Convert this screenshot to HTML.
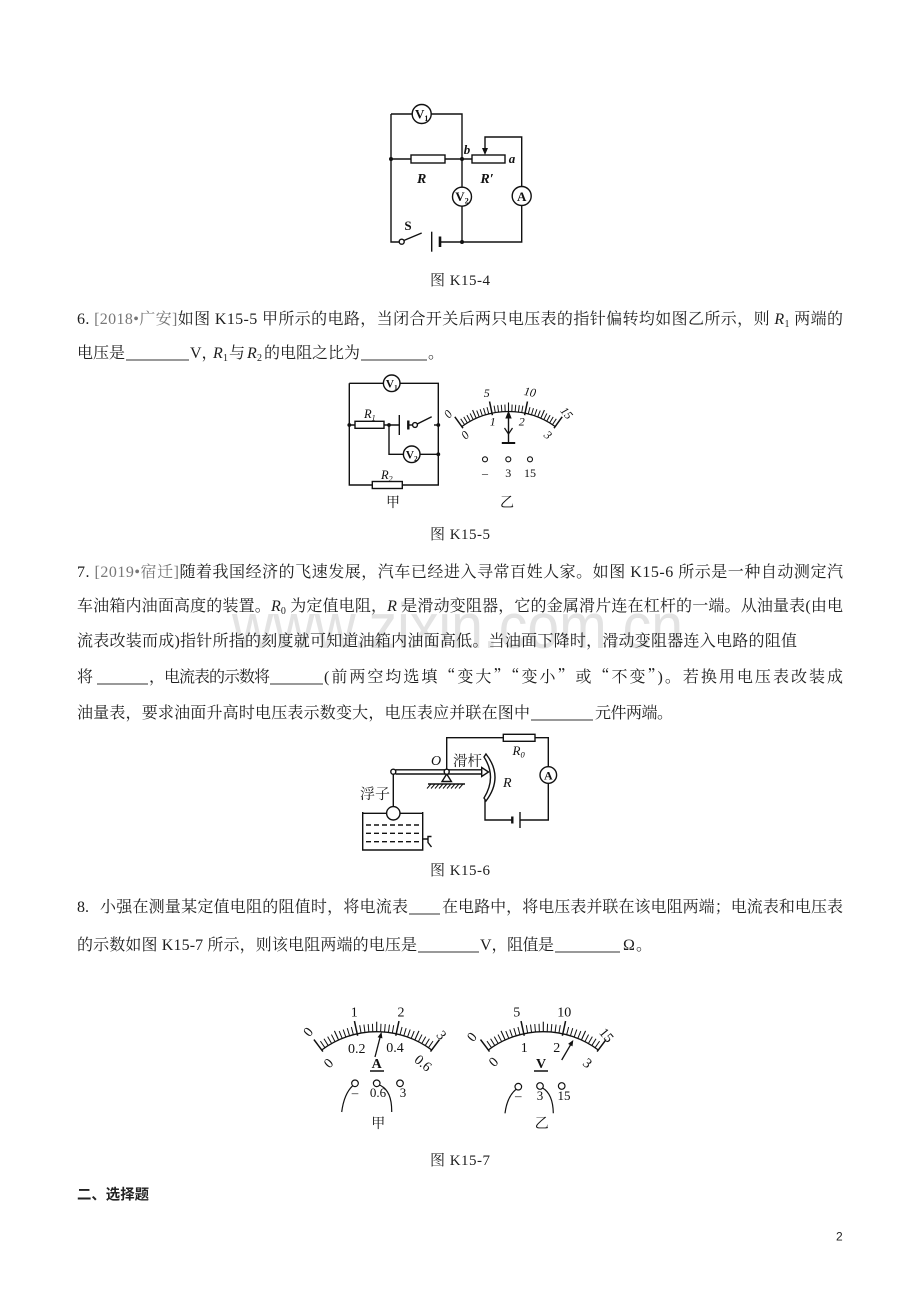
<!DOCTYPE html>
<html>
<head>
<meta charset="utf-8">
<style>
html,body{margin:0;padding:0;background:#fff;}
svg{display:block;}
.t{font-family:"Liberation Serif","Noto Serif CJK SC",serif;font-size:16px;fill:#1e1e1e;}
.d{font-family:"Liberation Serif","Noto Serif CJK SC",serif;fill:#111;}
.w{stroke:#111;stroke-width:1.4;fill:none;}
.cq{font-family:"Noto Serif CJK SC",serif;}
</style>
</head>
<body>
<svg width="920" height="1302" viewBox="0 0 920 1302" xmlns="http://www.w3.org/2000/svg" xmlns:xlink="http://www.w3.org/1999/xlink">
<defs>
<path id="t7a" d="M0 -91.8V-99.8" stroke="#111" stroke-width="1" fill="none"/>
<path id="t7b" d="M0 -91.8V-101.8" stroke="#111" stroke-width="1.1" fill="none"/>
<path id="t7c" d="M0 -89.8V-104.8" stroke="#111" stroke-width="1.5" fill="none"/>
<g id="s7">
<path d="M-54.99 -73.5A91.8 91.8 0 0 1 54.99 -73.5" stroke="#111" stroke-width="1.3" fill="none"/>
<use href="#t7c" transform="rotate(-36.8)"/>
<use href="#t7a" transform="rotate(-34.347)"/>
<use href="#t7a" transform="rotate(-31.893)"/>
<use href="#t7a" transform="rotate(-29.44)"/>
<use href="#t7a" transform="rotate(-26.987)"/>
<use href="#t7b" transform="rotate(-24.533)"/>
<use href="#t7a" transform="rotate(-22.08)"/>
<use href="#t7a" transform="rotate(-19.627)"/>
<use href="#t7a" transform="rotate(-17.173)"/>
<use href="#t7a" transform="rotate(-14.72)"/>
<use href="#t7c" transform="rotate(-12.267)"/>
<use href="#t7a" transform="rotate(-9.813)"/>
<use href="#t7a" transform="rotate(-7.36)"/>
<use href="#t7a" transform="rotate(-4.907)"/>
<use href="#t7a" transform="rotate(-2.453)"/>
<use href="#t7b" transform="rotate(0)"/>
<use href="#t7a" transform="rotate(2.453)"/>
<use href="#t7a" transform="rotate(4.907)"/>
<use href="#t7a" transform="rotate(7.36)"/>
<use href="#t7a" transform="rotate(9.813)"/>
<use href="#t7c" transform="rotate(12.267)"/>
<use href="#t7a" transform="rotate(14.72)"/>
<use href="#t7a" transform="rotate(17.173)"/>
<use href="#t7a" transform="rotate(19.627)"/>
<use href="#t7a" transform="rotate(22.08)"/>
<use href="#t7b" transform="rotate(24.533)"/>
<use href="#t7a" transform="rotate(26.987)"/>
<use href="#t7a" transform="rotate(29.44)"/>
<use href="#t7a" transform="rotate(31.893)"/>
<use href="#t7a" transform="rotate(34.347)"/>
<use href="#t7c" transform="rotate(36.8)"/>
</g>
<path id="t5a" d="M0 -80V-87" stroke="#111" stroke-width="1" fill="none"/>
<path id="t5b" d="M0 -80V-89" stroke="#111" stroke-width="1.1" fill="none"/>
<path id="t5c" d="M0 -78V-92" stroke="#111" stroke-width="1.5" fill="none"/>
</defs>
<rect width="920" height="1302" fill="#fff"/>

<!-- watermark -->
<text x="232" y="648" font-family="Liberation Sans, sans-serif" font-size="64" fill="#e3e3e3" textLength="451" lengthAdjust="spacingAndGlyphs">www.zixin.com.cn</text>

<!-- ================= Fig K15-4 ================= -->
<g class="w">
<path d="M391 114V242H399.2"/>
<path d="M391 114H412.2M431.2 114H462V242"/>
<path d="M391 159H411M445 159H472"/>
<rect x="411" y="155" width="34" height="8"/>
<rect x="472" y="155" width="33" height="8"/>
<path d="M485 149V137H521.7V186.5M521.7 205.5V242H440"/>
<circle cx="421.7" cy="114" r="9.5" fill="#fff"/>
<circle cx="462" cy="196.7" r="9.5" fill="#fff"/>
<circle cx="521.7" cy="196" r="9.5" fill="#fff"/>
<circle cx="401.7" cy="241.7" r="2.5" fill="#fff"/>
<path d="M403.8 240.5L421.7 233"/>
<path d="M431.7 231.7V251.7"/>
<path d="M440 236.5V247" stroke-width="2.6"/>
</g>
<path d="M485 155L482 148H488Z" fill="#111"/>
<circle cx="391" cy="159" r="2" fill="#111"/>
<circle cx="462" cy="159" r="2" fill="#111"/>
<circle cx="462" cy="242" r="2" fill="#111"/>
<text class="d" x="421.7" y="118.5" font-size="13" font-weight="bold" text-anchor="middle">V<tspan font-size="8" dy="2.5">1</tspan></text>
<text class="d" x="462" y="201" font-size="13" font-weight="bold" text-anchor="middle">V<tspan font-size="8" dy="2.5">2</tspan></text>
<text class="d" x="521.7" y="200.8" font-size="13" font-weight="bold" text-anchor="middle">A</text>
<text class="d" x="421.7" y="183" font-size="14" font-style="italic" font-weight="bold" text-anchor="middle">R</text>
<text class="d" x="487" y="183" font-size="14" font-style="italic" font-weight="bold" text-anchor="middle">R′</text>
<text class="d" x="467" y="154" font-size="13" font-style="italic" font-weight="bold" text-anchor="middle">b</text>
<text class="d" x="512" y="163" font-size="13" font-style="italic" font-weight="bold" text-anchor="middle">a</text>
<text class="d" x="408" y="230" font-size="13" font-weight="bold" text-anchor="middle">S</text>
<text class="t" x="430" y="285" textLength="60" lengthAdjust="spacing" style="font-size:15px">图 K15-4</text>

<!-- ================= Q6 ================= -->
<text class="t" x="77" y="324" textLength="766" lengthAdjust="spacing">6. <tspan fill="#777">[2018•广安]</tspan>如图 K15-5 甲所示的电路，当闭合开关后两只电压表的指针偏转均如图乙所示，则 <tspan font-style="italic">R</tspan><tspan font-size="10" dy="3">1</tspan><tspan dy="-3"> 两端的</tspan></text>
<text class="t" x="77" y="358">电压是</text>
<text class="t" x="190" y="358">V，</text>
<text class="t" x="213" y="358" font-style="italic">R</text>
<text class="t" x="223" y="361" style="font-size:10px">1</text>
<text class="t" x="229" y="358">与</text>
<text class="t" x="247" y="358" font-style="italic">R</text>
<text class="t" x="257" y="361" style="font-size:10px">2</text>
<text class="t" x="264" y="358" textLength="96" lengthAdjust="spacing">的电阻之比为</text>
<text class="t" x="428" y="358">。</text>
<g stroke="#333" stroke-width="1">
<path d="M126 360H189M361 360H427"/>
</g>

<!-- ================= Fig K15-5 ================= -->
<g class="w" stroke-width="1.3">
<path d="M349.3 383.3H383.4M400 383.3H438.3V485H402.3M372.3 485H349.3V383.3"/>
<rect x="372.3" y="481.5" width="30" height="7"/>
<path d="M349.3 425H355M384 425H399.3"/>
<rect x="355" y="421.3" width="29" height="7"/>
<path d="M399.3 415V435"/>
<path d="M408.3 420.5V429.5" stroke-width="2.4"/>
<path d="M408.3 425H412.6"/>
<circle cx="415" cy="425" r="2.4" fill="#fff"/>
<path d="M417.2 424L431.7 416.7"/>
<path d="M434 425H438.3"/>
<path d="M389 425V454.3H403.4M420 454.3H438.3"/>
<circle cx="391.7" cy="383.3" r="8.3" fill="#fff"/>
<circle cx="411.7" cy="454.3" r="8.3" fill="#fff"/>
</g>
<circle cx="349.3" cy="425" r="1.9" fill="#111"/>
<circle cx="389" cy="425" r="1.9" fill="#111"/>
<circle cx="438.3" cy="425" r="1.9" fill="#111"/>
<circle cx="438.3" cy="454.3" r="1.9" fill="#111"/>
<text class="d" x="391.7" y="387.5" font-size="11.5" font-weight="bold" text-anchor="middle">V<tspan font-size="7" dy="2.5">1</tspan></text>
<text class="d" x="411.7" y="458.5" font-size="11.5" font-weight="bold" text-anchor="middle">V<tspan font-size="7" dy="2.5">2</tspan></text>
<text class="d" x="364" y="418" font-size="12.5" font-style="italic">R<tspan font-size="8" dy="2.5">1</tspan></text>
<text class="d" x="381" y="479" font-size="12.5" font-style="italic">R<tspan font-size="8" dy="2.5">2</tspan></text>
<text class="d" x="393" y="507" font-size="14" text-anchor="middle">甲</text>

<!-- meter 乙 K15-5 -->
<g transform="translate(508.5 491.5)">
<path d="M-46.68 -64.97A80 80 0 0 1 46.68 -64.97" stroke="#111" stroke-width="1.3" fill="none"/>
<use href="#t5c" transform="rotate(-35.7)"/>
<use href="#t5a" transform="rotate(-33.32)"/>
<use href="#t5a" transform="rotate(-30.94)"/>
<use href="#t5a" transform="rotate(-28.56)"/>
<use href="#t5a" transform="rotate(-26.18)"/>
<use href="#t5b" transform="rotate(-23.8)"/>
<use href="#t5a" transform="rotate(-21.42)"/>
<use href="#t5a" transform="rotate(-19.04)"/>
<use href="#t5a" transform="rotate(-16.66)"/>
<use href="#t5a" transform="rotate(-14.28)"/>
<use href="#t5c" transform="rotate(-11.9)"/>
<use href="#t5a" transform="rotate(-9.52)"/>
<use href="#t5a" transform="rotate(-7.14)"/>
<use href="#t5a" transform="rotate(-4.76)"/>
<use href="#t5a" transform="rotate(-2.38)"/>
<use href="#t5b" transform="rotate(0)"/>
<use href="#t5a" transform="rotate(2.38)"/>
<use href="#t5a" transform="rotate(4.76)"/>
<use href="#t5a" transform="rotate(7.14)"/>
<use href="#t5a" transform="rotate(9.52)"/>
<use href="#t5c" transform="rotate(11.9)"/>
<use href="#t5a" transform="rotate(14.28)"/>
<use href="#t5a" transform="rotate(16.66)"/>
<use href="#t5a" transform="rotate(19.04)"/>
<use href="#t5a" transform="rotate(21.42)"/>
<use href="#t5b" transform="rotate(23.8)"/>
<use href="#t5a" transform="rotate(26.18)"/>
<use href="#t5a" transform="rotate(28.56)"/>
<use href="#t5a" transform="rotate(30.94)"/>
<use href="#t5a" transform="rotate(33.32)"/>
<use href="#t5c" transform="rotate(35.7)"/>
</g>
<g stroke="#111" fill="none">
<path d="M508.5 416V443" stroke-width="1.4"/>
<path d="M504.5 428L508.5 434L512.5 428" stroke-width="1.2"/>
<path d="M501.8 443H515.2" stroke-width="2"/>
<circle cx="485" cy="459.3" r="2.5" stroke-width="1.1"/>
<circle cx="508.3" cy="459.3" r="2.5" stroke-width="1.1"/>
<circle cx="530" cy="459.3" r="2.5" stroke-width="1.1"/>
</g>
<path d="M508.5 410.5L505.3 418.5H511.7Z" fill="#111"/>
<g class="d" font-size="12" font-style="italic" text-anchor="middle">
<text x="448" y="418" transform="rotate(-50 448 414)">0</text>
<text x="486.7" y="397">5</text>
<text x="530" y="396" transform="rotate(10 530 392)">10</text>
<text x="566.7" y="417" transform="rotate(50 566.7 413)">15</text>
<text x="465" y="439" transform="rotate(-45 465 435)">0</text>
<text x="492.7" y="425.7">1</text>
<text x="521.7" y="425.7">2</text>
<text x="548" y="439" transform="rotate(40 548 435)">3</text>
</g>
<g class="d" font-size="12" text-anchor="middle">
<text x="485" y="477">–</text>
<text x="508.3" y="477">3</text>
<text x="530" y="477">15</text>
</g>
<text class="d" x="507" y="507" font-size="14" text-anchor="middle">乙</text>
<text class="t" x="430" y="539" textLength="60" lengthAdjust="spacing" style="font-size:15px">图 K15-5</text>

<!-- ================= Q7 ================= -->
<text class="t" x="77" y="577" textLength="766" lengthAdjust="spacing">7. <tspan fill="#777">[2019•宿迁]</tspan>随着我国经济的飞速发展，汽车已经进入寻常百姓人家。如图 K15-6 所示是一种自动测定汽</text>
<text class="t" x="77" y="611" textLength="766" lengthAdjust="spacing">车油箱内油面高度的装置。<tspan font-style="italic">R</tspan><tspan font-size="10" dy="3">0</tspan><tspan dy="-3"> 为定值电阻，</tspan><tspan font-style="italic">R</tspan> 是滑动变阻器，它的金属滑片连在杠杆的一端。从油量表(由电</text>
<text class="t" x="77" y="646" textLength="720" lengthAdjust="spacing">流表改装而成)指针所指的刻度就可知道油箱内油面高低。当油面下降时，滑动变阻器连入电路的阻值</text>
<text class="t" x="77" y="682">将</text>
<text class="t" x="149" y="682" textLength="121" lengthAdjust="spacing">，电流表的示数将</text>
<text class="t" x="324" y="682" textLength="519" lengthAdjust="spacing">(前两空均选填<tspan class="cq">“</tspan>变大<tspan class="cq">”“</tspan>变小<tspan class="cq">”</tspan>或<tspan class="cq">“</tspan>不变<tspan class="cq">”</tspan>)。若换用电压表改装成</text>
<text class="t" x="77" y="718" textLength="453" lengthAdjust="spacing">油量表，要求油面升高时电压表示数变大，电压表应并联在图中</text>
<text class="t" x="595" y="718" textLength="78" lengthAdjust="spacing">元件两端。</text>
<g stroke="#333" stroke-width="1">
<path d="M97 684H148M270 684H323M531 720H593"/>
</g>

<!-- ================= Fig K15-6 ================= -->
<g class="w" stroke-width="1.3">
<path d="M362.7 812V850H422.7V812"/>
<path d="M362.7 813.3H422.7"/>
<path d="M366 825H421M366 833.3H421M366 841.7H421" stroke-dasharray="5 3"/>
<path d="M422.7 839H428V836.5H431.5M428 839V842.5L431.5 847"/>
<path d="M393.3 806.6V774"/>
<path d="M395.5 769.8H481.7M395.5 774H481.7"/>
<path d="M481.7 767.5L488.5 772L481.7 776.5Z" fill="#fff"/>
<circle cx="393.3" cy="813.3" r="6.7" fill="#fff"/>
<circle cx="393.3" cy="771.7" r="2.5" fill="#fff"/>
<path d="M446.7 769.3V737.7H503.3M535 737.7H548.3V766.7M548.3 783.3V820H520"/>
<rect x="503.3" y="734.3" width="31.7" height="7"/>
<path d="M520 812V828"/>
<path d="M512.3 816.5V823.5" stroke-width="2.4"/>
<path d="M512.3 820H485V800"/>
<path d="M486 754Q504 777 486 801L484 798Q497 777 484 757Z" fill="#fff"/>
<path d="M446.7 774L442 781.5H451.4Z" fill="#fff"/>
<circle cx="446.7" cy="771.7" r="2.5" fill="#fff"/>
<path d="M428 784H465"/>
<path d="M431 784L427 788.5M435 784L431 788.5M439 784L435 788.5M443 784L439 788.5M447 784L443 788.5M451 784L447 788.5M455 784L451 788.5M459 784L455 788.5M463 784L459 788.5" stroke-width="1"/>
<circle cx="548.3" cy="775" r="8.3" fill="#fff"/>
</g>
<text class="d" x="548.3" y="779.5" font-size="12" font-weight="bold" text-anchor="middle">A</text>
<text class="d" x="436" y="765" font-size="14" font-style="italic" text-anchor="middle">O</text>
<text class="t" x="453" y="766" textLength="29" lengthAdjust="spacingAndGlyphs" style="font-size:14.5px">滑杆</text>
<text class="d" x="512.5" y="755" font-size="13" font-style="italic">R<tspan font-size="8.5" dy="2.5">0</tspan></text>
<text class="d" x="503" y="787" font-size="14" font-style="italic">R</text>
<text class="t" x="360" y="799" textLength="30" lengthAdjust="spacingAndGlyphs" style="font-size:14.5px">浮子</text>
<text class="t" x="430" y="875" textLength="60" lengthAdjust="spacing" style="font-size:15px">图 K15-6</text>

<!-- ================= Q8 ================= -->
<text class="t" x="77" y="912">8.</text>
<text class="t" x="100" y="912" textLength="308" lengthAdjust="spacing">小强在测量某定值电阻的阻值时，将电流表</text>
<text class="t" x="442" y="912" textLength="401" lengthAdjust="spacing">在电路中，将电压表并联在该电阻两端；电流表和电压表</text>
<text class="t" x="77" y="950" textLength="340" lengthAdjust="spacing">的示数如图 K15-7 所示，则该电阻两端的电压是</text>
<text class="t" x="480" y="950">V，</text>
<text class="t" x="507" y="950" textLength="47" lengthAdjust="spacing">阻值是</text>
<text class="t" x="623" y="950">Ω</text>
<text class="t" x="636" y="950">。</text>
<g stroke="#333" stroke-width="1">
<path d="M409 914H440M418 952H479M555 952H620"/>
</g>

<!-- ================= Fig K15-7 ================= -->
<use href="#s7" transform="translate(376.7 1123.5)"/>
<use href="#s7" transform="translate(543.3 1123.5)"/>

<!-- ammeter 甲 -->
<g stroke="#111" fill="none">
<path d="M375 1057L380.3 1036.5" stroke-width="1.3"/>
<path d="M370 1071H384" stroke-width="1.5"/>
<circle cx="355" cy="1083.3" r="3.3" stroke-width="1.2" fill="#fff"/>
<circle cx="376.7" cy="1083.3" r="3.3" stroke-width="1.2" fill="#fff"/>
<circle cx="400" cy="1083.3" r="3.3" stroke-width="1.2" fill="#fff"/>
<path d="M352.6 1085.8Q344 1094 341.7 1112" stroke-width="1.2"/>
<path d="M379.3 1085Q392 1090 391.7 1112" stroke-width="1.2"/>
</g>
<path d="M381.5 1032L382.4 1038.4L377.6 1037.2Z" fill="#111"/>
<g class="d" font-size="14" text-anchor="middle">
<text x="308" y="1036.5" transform="rotate(-50 308 1031.7)">0</text>
<text x="354.3" y="1016.5">1</text>
<text x="401" y="1016.5">2</text>
<text x="441.7" y="1039.8" transform="rotate(50 441.7 1035)">3</text>
<text x="328.3" y="1067.8" transform="rotate(-45 328.3 1063)">0</text>
<text x="356.7" y="1053">0.2</text>
<text x="395" y="1052">0.4</text>
<text x="423.3" y="1067.8" transform="rotate(40 423.3 1063)">0.6</text>
<text x="376.7" y="1068" font-weight="bold">A</text>
<text x="355" y="1097" font-size="13">–</text>
<text x="378" y="1097" font-size="13">0.6</text>
<text x="403" y="1097" font-size="13">3</text>
<text x="378.3" y="1128">甲</text>
</g>

<!-- voltmeter 乙 -->
<g stroke="#111" fill="none">
<path d="M561.7 1060L570.8 1044.4" stroke-width="1.3"/>
<path d="M534 1071H548" stroke-width="1.5"/>
<circle cx="518.3" cy="1086.7" r="3.3" stroke-width="1.2" fill="#fff"/>
<circle cx="540" cy="1086" r="3.3" stroke-width="1.2" fill="#fff"/>
<circle cx="561.7" cy="1086" r="3.3" stroke-width="1.2" fill="#fff"/>
<path d="M516 1089.3Q507 1097 505 1113.3" stroke-width="1.2"/>
<path d="M542.6 1088Q553 1094 553.3 1113.3" stroke-width="1.2"/>
</g>
<path d="M573.3 1040L572.5 1046.4L568.1 1043.9Z" fill="#111"/>
<g class="d" font-size="14" text-anchor="middle">
<text x="471.7" y="1041.5" transform="rotate(-50 471.7 1036.7)">0</text>
<text x="516.7" y="1016.5">5</text>
<text x="564.3" y="1016.5">10</text>
<text x="606.7" y="1039.8" transform="rotate(50 606.7 1035)">15</text>
<text x="493.3" y="1066.5" transform="rotate(-45 493.3 1061.7)">0</text>
<text x="524.3" y="1052">1</text>
<text x="556.7" y="1052">2</text>
<text x="587.7" y="1067.8" transform="rotate(40 587.7 1063)">3</text>
<text x="541" y="1068" font-weight="bold">V</text>
<text x="518.3" y="1100" font-size="13">–</text>
<text x="540" y="1100" font-size="13">3</text>
<text x="564" y="1100" font-size="13">15</text>
<text x="541.7" y="1128">乙</text>
</g>
<text class="t" x="430" y="1165" textLength="60" lengthAdjust="spacing" style="font-size:15px">图 K15-7</text>

<!-- section heading & page no -->
<text x="77" y="1199.5" font-family="Liberation Sans, Noto Sans CJK SC, sans-serif" font-size="14.5" font-weight="bold" fill="#222" textLength="72" lengthAdjust="spacingAndGlyphs">二、选择题</text>
<text x="836" y="1240.5" font-family="Liberation Sans, sans-serif" font-size="12" fill="#222">2</text>
</svg>
</body>
</html>
